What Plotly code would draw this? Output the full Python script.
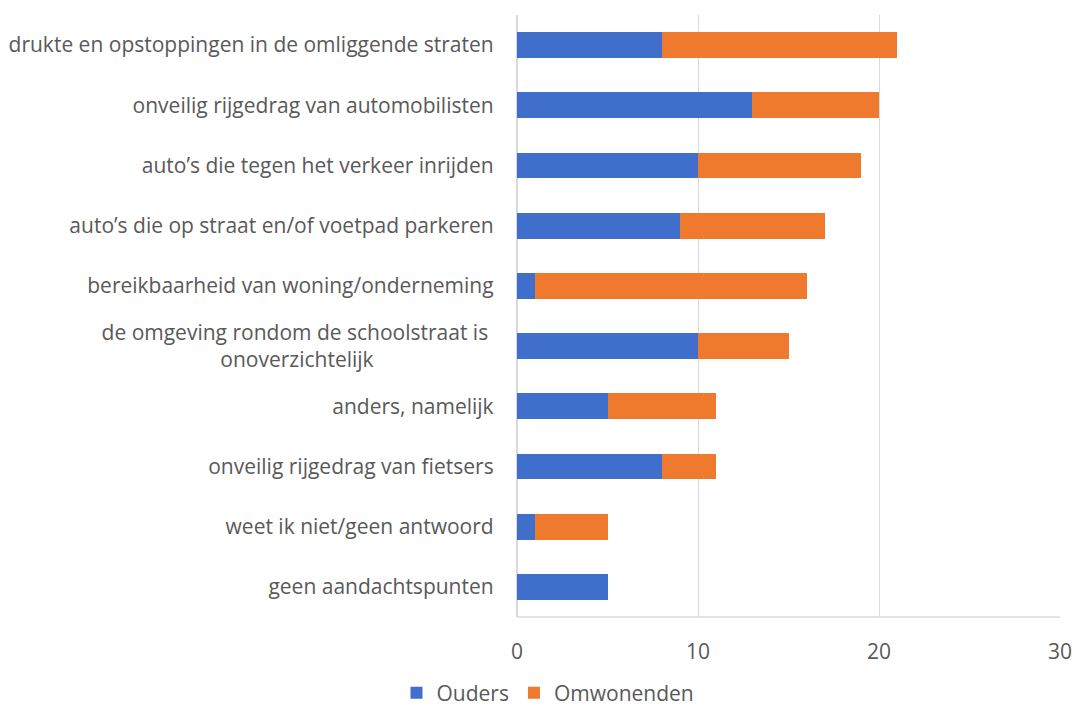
import plotly.graph_objects as go

categories = [
    "drukte en opstoppingen in de omliggende straten",
    "onveilig rijgedrag van automobilisten",
    "auto’s die tegen het verkeer inrijden",
    "auto’s die op straat en/of voetpad parkeren",
    "bereikbaarheid van woning/onderneming",
    "de omgeving rondom de schoolstraat is <br>onoverzichtelijk",
    "anders, namelijk",
    "onveilig rijgedrag van fietsers",
    "weet ik niet/geen antwoord",
    "geen aandachtspunten",
]
ouders = [8, 13, 10, 9, 1, 10, 5, 8, 1, 5]
omwonenden = [13, 7, 9, 8, 15, 5, 6, 3, 4, 0]
x_ticks = [0, 10, 20, 30]

# padded tick text so the two-line label looks centred
tick_text = list(categories)
tick_text[5] = "de omgeving rondom de schoolstraat is <br>onoverzichtelijk" + "\u00a0" * 22

font = "Open Sans, Segoe UI, sans-serif"
grey = "#595959"

fig = go.Figure()
fig.add_trace(go.Bar(y=categories, x=ouders, orientation="h", name="Ouders",
                     marker=dict(color="#3F6FCB", line=dict(width=0))))
fig.add_trace(go.Bar(y=categories, x=omwonenden, orientation="h", name="Omwonenden",
                     marker=dict(color="#EF7A2E", line=dict(width=0))))

W, H = 1077, 711
fig.update_layout(
    barmode="stack",
    bargap=0.57,
    width=W, height=H,
    margin=dict(l=517, r=17, t=15, b=94, autoexpand=False),
    plot_bgcolor="white", paper_bgcolor="white",
    font=dict(family=font, size=21, color=grey),
    legend=dict(orientation="h", x=548 / W, xanchor="center", xref="container",
                y=(H - 693) / H, yanchor="middle", yref="container",
                font=dict(size=21, color=grey), traceorder="normal",
                tracegroupgap=0, itemsizing="constant"),
    showlegend=True,
)
fig.update_xaxes(range=[0, 30], tickvals=x_ticks, showgrid=True, gridcolor="#D9D9D9",
                 gridwidth=1.3, zeroline=True, zerolinecolor="#D9D9D9", zerolinewidth=1.3,
                 tickfont=dict(size=21, color=grey), ticks="outside", ticklen=16,
                 tickcolor="rgba(0,0,0,0)", showline=False, automargin=False)
fig.update_yaxes(categoryorder="array", categoryarray=categories[::-1],
                 tickvals=categories, ticktext=tick_text,
                 tickfont=dict(size=21, color=grey), ticks="outside", ticklen=18,
                 tickcolor="rgba(0,0,0,0)", showline=True, linecolor="#D9D9D9", linewidth=1.3,
                 automargin=False)
# bottom border line of plot area
fig.add_shape(type="line", xref="paper", yref="paper", x0=0, x1=1, y0=0, y1=0,
              line=dict(color="#D9D9D9", width=1.3))

fig.write_html(
    "out.html",
    config={"displayModeBar": False},
    post_script="document.body.style.margin='0';document.body.style.overflow='hidden';",
)
